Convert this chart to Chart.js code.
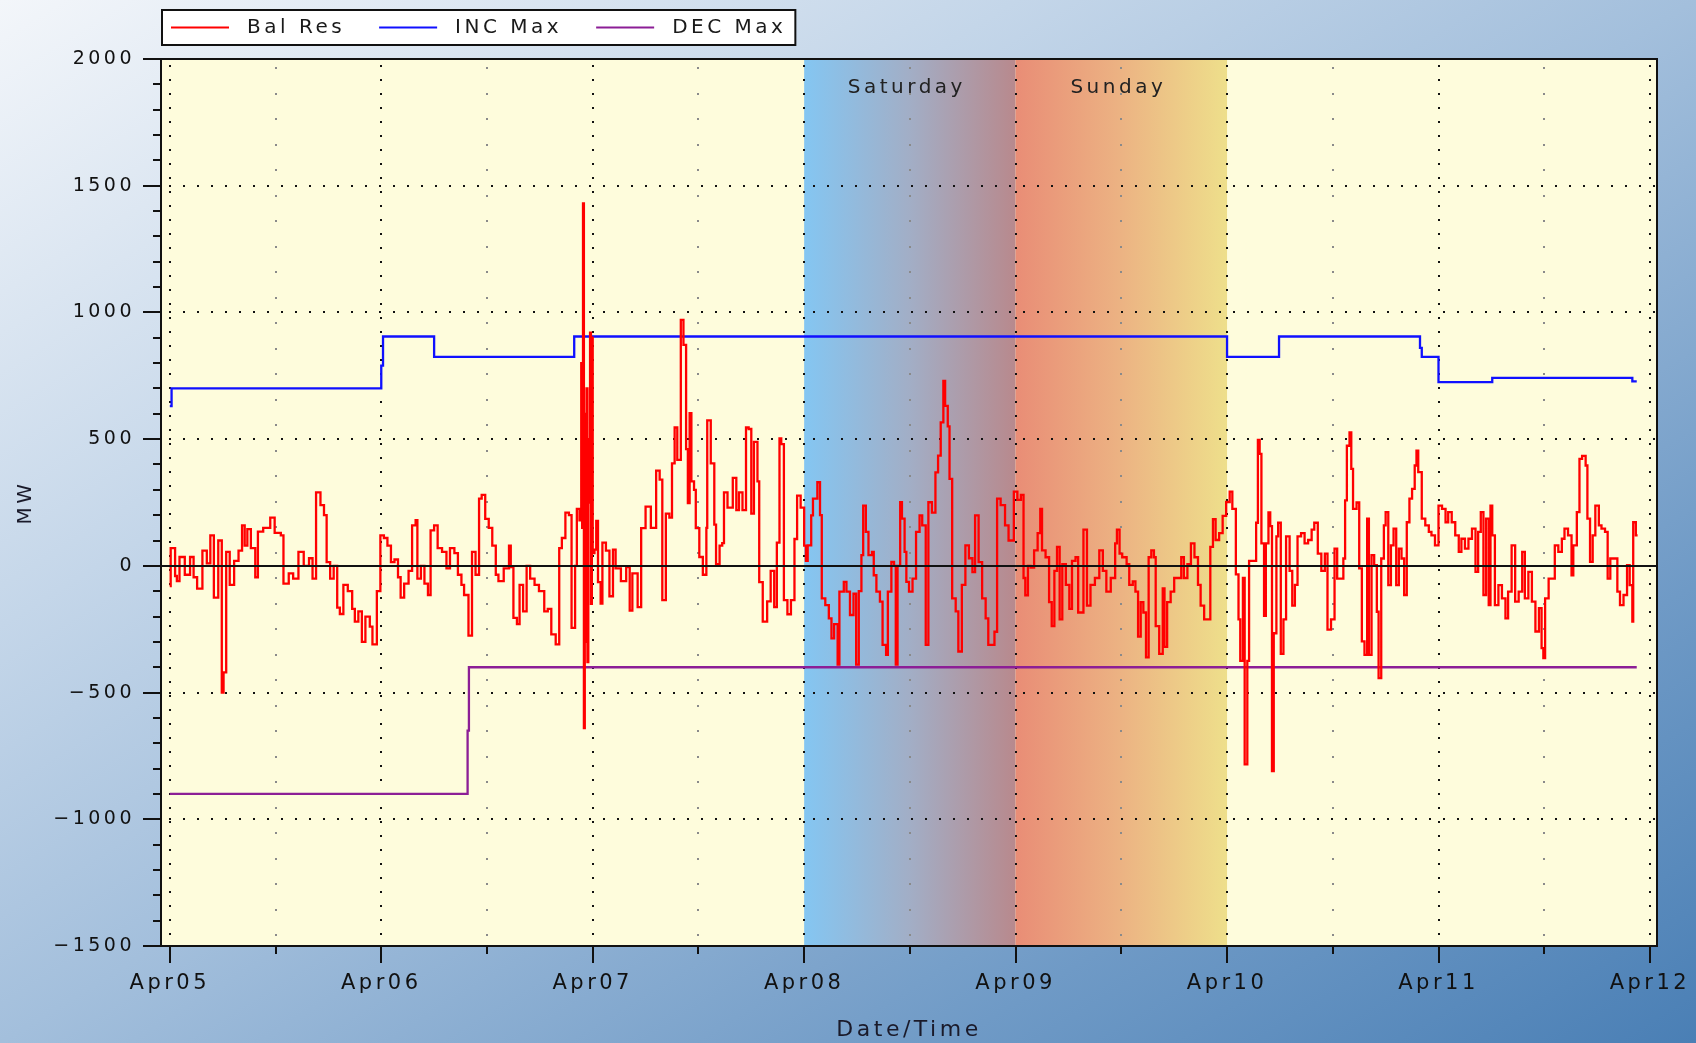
<!DOCTYPE html>
<html>
<head>
<meta charset="utf-8">
<script src="https://cdn.jsdelivr.net/npm/chart.js@4.4.1/dist/chart.umd.min.js"></script>
<style>
  html, body { margin: 0; padding: 0; overflow: hidden; }
  body {
    width: 1696px; height: 1043px;
    background: linear-gradient(to bottom right, #f3f6fa 0%, #c4d6e9 30%, #a3bfdc 50%, #6f9ac6 78%, #4a7fb5 100%);
  }
  canvas { display: block; }
</style>
</head>
<body>
<canvas id="balChart" width="1696" height="1043"></canvas>
<script>
// x values are hours from Apr05 00:00
var dayTicks = [0, 24, 48, 72, 96, 120, 144, 168];
var dayLabels = ['Apr05', 'Apr06', 'Apr07', 'Apr08', 'Apr09', 'Apr10', 'Apr11', 'Apr12'];
var yTicks = [-1500, -1000, -500, 0, 500, 1000, 1500, 2000];

// weekend shading
var weekendNames = ['Saturday', 'Sunday'];
var weekendStart = [72, 96];
var weekendEnd = [96, 120];

// INC Max / DEC Max limits (stepped)
var incMax = [[0, 630], [0.2, 700], [24, 790], [24.2, 905], [30, 825], [45.9, 905], [120, 825],
    [125.9, 905], [141.9, 860], [142.1, 825], [144, 725], [150.1, 742], [166, 728], [166.5, 728]];
var decMax = [[0, -900], [33.8, -650], [33.95, -400], [166.5, -400]];

// balancing reserve
var balRes = [
    [0, -80], [0.1, 70], [0.6, -40], [0.8, -60], [1.1, 35], [1.7, -35], [2.3, 35], [2.7, -45], [3.1, -90], [3.7, 60],
    [4.2, 10], [4.6, 120], [5.0, -125], [5.5, 100], [5.9, -500], [6.1, -420], [6.4, 55], [6.8, -75], [7.3, 20], [7.8, 60],
    [8.2, 160], [8.5, 80], [8.8, 145], [9.2, 70], [9.7, -45], [10.0, 135], [10.6, 150], [11.4, 190], [11.9, 130], [12.6, 120],
    [12.9, -70], [13.5, -30], [14.0, -50], [14.6, 55], [15.2, 0], [15.8, 30], [16.2, -50], [16.6, 290], [17.1, 240], [17.5, 200],
    [17.8, 15], [18.2, -50], [18.6, 0], [19.0, -165], [19.3, -190], [19.7, -75], [20.2, -100], [20.7, -170], [21.0, -220], [21.4, -180],
    [21.8, -300], [22.2, -200], [22.7, -240], [23.0, -310], [23.5, -100], [23.9, 120], [24.3, 110], [24.7, 80], [25.1, 15], [25.5, 25],
    [25.9, -45], [26.2, -125], [26.6, -70], [27.1, -20], [27.5, 160], [27.9, 180], [28.1, -50], [28.5, 0], [28.9, -70], [29.3, -115],
    [29.6, 140], [30.0, 160], [30.4, 70], [30.9, 55], [31.4, -10], [31.8, 70], [32.3, 50], [32.7, -35], [33.1, -75], [33.4, -115],
    [33.9, -275], [34.3, 55], [34.7, -35], [35.1, 265], [35.4, 280], [35.8, 185], [36.2, 150], [36.6, 80], [37.0, -35], [37.3, -60],
    [37.9, -10], [38.5, 80], [38.7, -5], [39.0, -205], [39.4, -230], [39.7, -75], [40.1, -180], [40.5, 0], [40.9, -50], [41.4, -75],
    [41.9, -100], [42.5, -180], [42.9, -170], [43.3, -270], [43.8, -310], [44.2, 70], [44.5, 110], [44.9, 210], [45.3, 200], [45.6, -245],
    [46.0, 0], [46.2, 225], [46.5, 180], [46.7, 800], [46.8, 150], [46.9, 1430], [47.0, -640], [47.1, 600], [47.2, -300], [47.3, 700],
    [47.4, -380], [47.5, 500], [47.6, 250], [47.7, 920], [47.8, -150], [47.9, 900], [48.0, 50], [48.2, 64], [48.4, 177], [48.6, -64],
    [48.9, -149], [49.1, 92], [49.5, 60], [49.9, -120], [50.3, 64], [50.6, -10], [51.2, -60], [51.8, -5], [52.2, -177], [52.5, -30],
    [53.1, -163], [53.5, 149], [54.0, 234], [54.6, 150], [55.2, 376], [55.6, 340], [55.9, -135], [56.3, 206], [56.7, 190], [57.0, 404],
    [57.3, 546], [57.6, 418], [58.0, 971], [58.3, 872], [58.6, 461], [58.8, 248], [59.0, 603], [59.2, 333], [59.5, 300], [59.7, 149],
    [60.1, 35], [60.5, -35], [60.9, 150], [61.0, 574], [61.4, 404], [61.8, 163], [62.0, 7], [62.4, 80], [62.7, 90], [62.9, 290],
    [63.3, 230], [63.9, 347], [64.3, 220], [64.6, 290], [65.0, 220], [65.4, 546], [65.7, 540], [66.0, 206], [66.3, 489], [66.7, 333],
    [66.9, -64], [67.3, -220], [67.8, -140], [68.2, -20], [68.6, -163], [68.9, 92], [69.2, 503], [69.4, 480], [69.7, -135], [70.1, -191],
    [70.5, -135], [70.9, 106], [71.2, 277], [71.6, 230], [72.0, 80], [72.2, 20], [72.4, 81], [72.8, 199], [73.0, 265], [73.5, 330],
    [73.8, 200], [74.0, -128], [74.4, -155], [74.8, -207], [75.1, -286], [75.4, -230], [75.8, -390], [76.0, -102], [76.5, -63], [76.8, -102],
    [77.2, -194], [77.6, -110], [77.9, -390], [78.2, -100], [78.5, 42], [78.7, 238], [79.0, 134], [79.3, 42], [79.7, 55], [79.9, -37],
    [80.2, -102], [80.6, -141], [80.9, -312], [81.3, -351], [81.5, -102], [81.9, 16], [82.2, 0], [82.4, -390], [82.6, 0], [82.9, 251],
    [83.1, 186], [83.4, 55], [83.6, -63], [83.9, -102], [84.3, -50], [84.7, 134], [85.1, 199], [85.4, 160], [85.8, -312], [86.1, 251],
    [86.5, 210], [86.9, 369], [87.2, 435], [87.5, 566], [87.8, 730], [88.0, 631], [88.3, 550], [88.5, 343], [88.8, -128], [89.2, -180],
    [89.5, -338], [89.9, -75], [90.3, 81], [90.7, 30], [91.1, -25], [91.4, 199], [91.8, 15], [92.2, -128], [92.6, -207], [92.9, -312],
    [93.3, -312], [93.6, -260], [93.9, 265], [94.3, 240], [94.8, 160], [95.2, 100], [95.8, 293], [96.2, 260], [96.6, 280], [96.9, -48],
    [97.1, -116], [97.4, 0], [97.7, -7], [98.1, 61], [98.5, 129], [98.8, 225], [99.0, 61], [99.4, 34], [99.8, -143], [100.1, -238],
    [100.4, -20], [100.7, 75], [101.0, -211], [101.3, 7], [101.7, -75], [102.1, -170], [102.4, 20], [102.8, 34], [103.1, -184], [103.7, 143],
    [104.1, -157], [104.5, -75], [105.0, -48], [105.5, 61], [105.9, -20], [106.3, -102], [106.8, -48], [107.3, 89], [107.5, 143], [107.8, 48],
    [108.1, 34], [108.6, 7], [108.9, -75], [109.3, -61], [109.6, -102], [109.9, -279], [110.2, -143], [110.5, -184], [110.8, -361], [111.1, 34],
    [111.4, 61], [111.7, 34], [111.9, -238], [112.3, -347], [112.7, -89], [112.9, -320], [113.2, -143], [113.6, -102], [114.0, -48], [114.4, -48],
    [114.8, 34], [115.1, -48], [115.5, 7], [115.9, 89], [116.3, 34], [116.7, -75], [117.0, -157], [117.4, -211], [117.8, -211], [118.1, 75],
    [118.4, 184], [118.7, 102], [119.1, 129], [119.5, 197], [119.9, 252], [120.3, 293], [120.6, 225], [121.0, -34], [121.3, -211], [121.5, -375],
    [121.8, -48], [122.0, -783], [122.3, -375], [122.5, 20], [122.9, 20], [123.3, 170], [123.5, 497], [123.7, 442], [123.9, 89], [124.2, -197],
    [124.4, 89], [124.7, 211], [124.9, 157], [125.1, -810], [125.3, -266], [125.6, 116], [125.8, 170], [126.1, -347], [126.4, -211], [126.7, 116],
    [127.1, -20], [127.4, -157], [127.7, -75], [128.0, 116], [128.4, 129], [128.8, 89], [129.2, 102], [129.6, 143], [129.9, 170], [130.3, 48],
    [130.7, -20], [131.1, 48], [131.4, -252], [131.8, -211], [132.2, 68], [132.5, -50], [132.8, -50], [133.2, 29], [133.4, 258], [133.6, 474],
    [133.9, 527], [134.1, 383], [134.3, 225], [134.7, 250], [135.0, -10], [135.3, -298], [135.6, -351], [135.9, 186], [136.1, -351], [136.4, 42],
    [136.7, 3], [137.0, -181], [137.2, -443], [137.5, 29], [137.8, 160], [138.0, 212], [138.3, -76], [138.6, 81], [138.9, 147], [139.2, -76],
    [139.5, 68], [139.8, 29], [140.1, -115], [140.4, 172], [140.7, 265], [141.0, 304], [141.3, 396], [141.5, 455], [141.7, 370], [142.1, 186],
    [142.5, 160], [142.9, 134], [143.2, 120], [143.6, 81], [144.0, 238], [144.4, 225], [144.8, 172], [145.1, 212], [145.5, 172], [145.9, 120],
    [146.3, 55], [146.6, 107], [147.0, 68], [147.4, 107], [147.8, 147], [148.2, -24], [148.5, 134], [148.8, 212], [149.1, -115], [149.4, 186],
    [149.7, -155], [149.9, 238], [150.1, 120], [150.4, -155], [150.8, -76], [151.2, -128], [151.6, -207], [151.9, -102], [152.3, 81], [152.7, -141],
    [153.1, -102], [153.5, 55], [153.8, -128], [154.2, -24], [154.6, -141], [155.0, -259], [155.4, -167], [155.7, -325], [155.9, -364], [156.1, -128],
    [156.5, -50], [156.9, -50], [157.2, 81], [157.6, 55], [158.0, 107], [158.3, 147], [158.7, 120], [159.1, -37], [159.3, 81], [159.7, 212],
    [160.0, 422], [160.3, 434], [160.7, 396], [160.9, 186], [161.2, 16], [161.5, 120], [161.8, 238], [162.2, 160], [162.5, 147], [162.9, 134],
    [163.2, -50], [163.5, 29], [163.9, 29], [164.3, -102], [164.6, -155], [165.0, -115], [165.4, 3], [165.7, -76], [166.0, -220], [166.1, 172],
    [166.4, 120], [166.6, 120]
];

var toPoints = (pairs) => pairs.map(p => ({ x: p[0], y: p[1] }));

// backgrounds, dotted grid, axis ticks, zero line, legend
var decor = {
    id: 'decor',
    beforeDraw(chart) {
        const { ctx, chartArea: a, scales: { x } } = chart;
        ctx.letterSpacing = '3.5px';
        ctx.save();
        ctx.fillStyle = '#fefcdc';
        ctx.fillRect(a.left, a.top, a.width, a.height);
        const bandColors = [['#84c6f2', '#a2aec6', '#b8898d'], ['#e98d76', '#ecb383', '#eedf8b']];
        weekendStart.forEach((s, i) => {
            const x0 = x.getPixelForValue(s), x1 = x.getPixelForValue(weekendEnd[i]);
            const g = ctx.createLinearGradient(x0, 0, x1, 0);
            bandColors[i].forEach((c, k) => g.addColorStop(k / (bandColors[i].length - 1), c));
            ctx.fillStyle = g;
            ctx.fillRect(x0, a.top, x1 - x0, a.height);
        });
        ctx.restore();
    },
    beforeDatasetsDraw(chart) {
        const { ctx, chartArea: a, scales: { x, y } } = chart;
        ctx.save();
        // minor vertical grid (12h)
        ctx.fillStyle = '#8a8a8a';
        dayTicks.slice(0, -1).forEach(d => {
            const px = Math.round(x.getPixelForValue(d + 12));
            for (let yy = a.top + 8; yy < a.bottom - 2; yy += 25.5) ctx.fillRect(px - 1, Math.round(yy), 2, 2);
        });
        // major vertical grid (days)
        ctx.fillStyle = '#111';
        dayTicks.forEach(d => {
            const px = Math.round(x.getPixelForValue(d));
            for (let yy = a.top + 6; yy < a.bottom - 2; yy += 14) ctx.fillRect(px - 1, Math.round(yy), 2, 2);
        });
        // horizontal grid
        yTicks.forEach(v => {
            if (v === 0 || v === yTicks[0] || v === yTicks[yTicks.length - 1]) return;
            const py = Math.round(y.getPixelForValue(v));
            for (let xx = a.left + 8; xx < a.right - 2; xx += 14) ctx.fillRect(Math.round(xx), py - 1, 2, 2);
        });
        // weekend names
        ctx.fillStyle = '#222';
        ctx.font = '20px "DejaVu Sans"';
        ctx.textAlign = 'center';
        ctx.textBaseline = 'middle';
        weekendNames.forEach((n, i) => {
            const cx = x.getPixelForValue((weekendStart[i] + weekendEnd[i]) / 2);
            ctx.fillText(n, cx - 3, a.top + 29);
        });
        ctx.restore();
    },
    afterDatasetsDraw(chart) {
        const { ctx, chartArea: a, scales: { x, y } } = chart;
        ctx.save();
        ctx.strokeStyle = '#111';
        ctx.lineWidth = 2;
        // zero line
        const y0 = Math.round(y.getPixelForValue(0));
        ctx.beginPath();
        ctx.moveTo(a.left, y0);
        ctx.lineTo(a.right, y0);
        ctx.stroke();
        // frame
        ctx.strokeRect(a.left, a.top, a.width, a.height);
        // y ticks: major every 500, minor every 100
        ctx.beginPath();
        for (let v = yTicks[0]; v <= yTicks[yTicks.length - 1]; v += 100) {
            const py = Math.round(y.getPixelForValue(v));
            const len = v % 500 === 0 ? 18 : 8;
            ctx.moveTo(a.left - len, py);
            ctx.lineTo(a.left, py);
        }
        // x ticks: major each day, minor at noon
        dayTicks.forEach((d, i) => {
            const px = Math.round(x.getPixelForValue(d));
            ctx.moveTo(px, a.bottom);
            ctx.lineTo(px, a.bottom + 17);
            if (i < dayTicks.length - 1) {
                const pm = Math.round(x.getPixelForValue(d + 12));
                ctx.moveTo(pm, a.bottom);
                ctx.lineTo(pm, a.bottom + 8);
            }
        });
        ctx.stroke();
        ctx.restore();
    },
    afterDraw(chart) {
        // legend box
        const { ctx } = chart;
        ctx.save();
        ctx.font = '20px "DejaVu Sans"';
        ctx.textBaseline = 'middle';
        ctx.textAlign = 'left';
        const top = 10, h = 35, left = 162;
        let cx = left + 9;
        const items = chart.data.datasets.map(ds => ({ label: ds.label, color: ds.borderColor, w: ctx.measureText(ds.label).width }));
        const width = items.reduce((s, it) => s + 58 + 18 + it.w, 0) + (items.length - 1) * 34 + 18;
        ctx.fillStyle = '#fff';
        ctx.fillRect(left, top, width, h);
        ctx.strokeStyle = '#111';
        ctx.lineWidth = 2;
        ctx.strokeRect(left, top, width, h);
        const my = top + h / 2;
        items.forEach(it => {
            ctx.strokeStyle = it.color;
            ctx.lineWidth = 2;
            ctx.beginPath();
            ctx.moveTo(cx, my);
            ctx.lineTo(cx + 58, my);
            ctx.stroke();
            cx += 58 + 18;
            ctx.fillStyle = '#1a1a1a';
            ctx.fillText(it.label, cx, my);
            cx += it.w + 34;
        });
        ctx.restore();
    }
};

var lineStyle = { borderWidth: 2.3, pointRadius: 0, stepped: true, fill: false };

new Chart(document.getElementById('balChart'), {
    type: 'line',
    data: {
        datasets: [
            Object.assign({ label: 'Bal Res', data: toPoints(balRes), borderColor: '#ff0000' }, lineStyle),
            Object.assign({ label: 'INC Max', data: toPoints(incMax), borderColor: '#1010ff' }, lineStyle),
            Object.assign({ label: 'DEC Max', data: toPoints(decMax), borderColor: '#8c1e96' }, lineStyle)
        ]
    },
    options: {
        responsive: false,
        animation: false,
        events: [],
        layout: { padding: { top: 59, right: 39, left: 0, bottom: 0 } },
        plugins: { legend: { display: false }, tooltip: { enabled: false } },
        scales: {
            x: {
                type: 'linear',
                min: -1,
                max: 168.8,
                grid: { display: false },
                border: { display: false },
                afterBuildTicks: (s) => { s.ticks = dayTicks.map(v => ({ value: v })); },
                afterFit: (s) => { s.height = 97; s.paddingLeft = 0; s.paddingRight = 0; },
                ticks: {
                    padding: 17,
                    maxRotation: 0,
                    autoSkip: false,
                    color: '#111',
                    font: { family: 'DejaVu Sans', size: 21 },
                    callback: (v) => dayLabels[dayTicks.indexOf(v)]
                },
                title: {
                    display: true,
                    text: 'Date/Time',
                    color: '#1a1a2a',
                    font: { family: 'DejaVu Sans', size: 22 },
                    padding: { top: 0, bottom: 0 }
                }
            },
            y: {
                min: yTicks[0],
                max: yTicks[yTicks.length - 1],
                grid: { display: false },
                border: { display: false },
                afterBuildTicks: (s) => { s.ticks = yTicks.map(v => ({ value: v })); },
                afterFit: (s) => { s.width = 161; s.paddingTop = 0; s.paddingBottom = 0; },
                ticks: {
                    padding: 18,
                    color: '#111',
                    font: { family: 'DejaVu Sans', size: 19 },
                    callback: (v) => (v < 0 ? '\u2212' + Math.abs(v) : String(v))
                },
                title: {
                    display: true,
                    text: 'MW',
                    color: '#1a1a2a',
                    font: { family: 'DejaVu Sans', size: 20 },
                    padding: { top: 14, bottom: 0 }
                }
            }
        }
    },
    plugins: [decor]
});
</script>
</body>
</html>
